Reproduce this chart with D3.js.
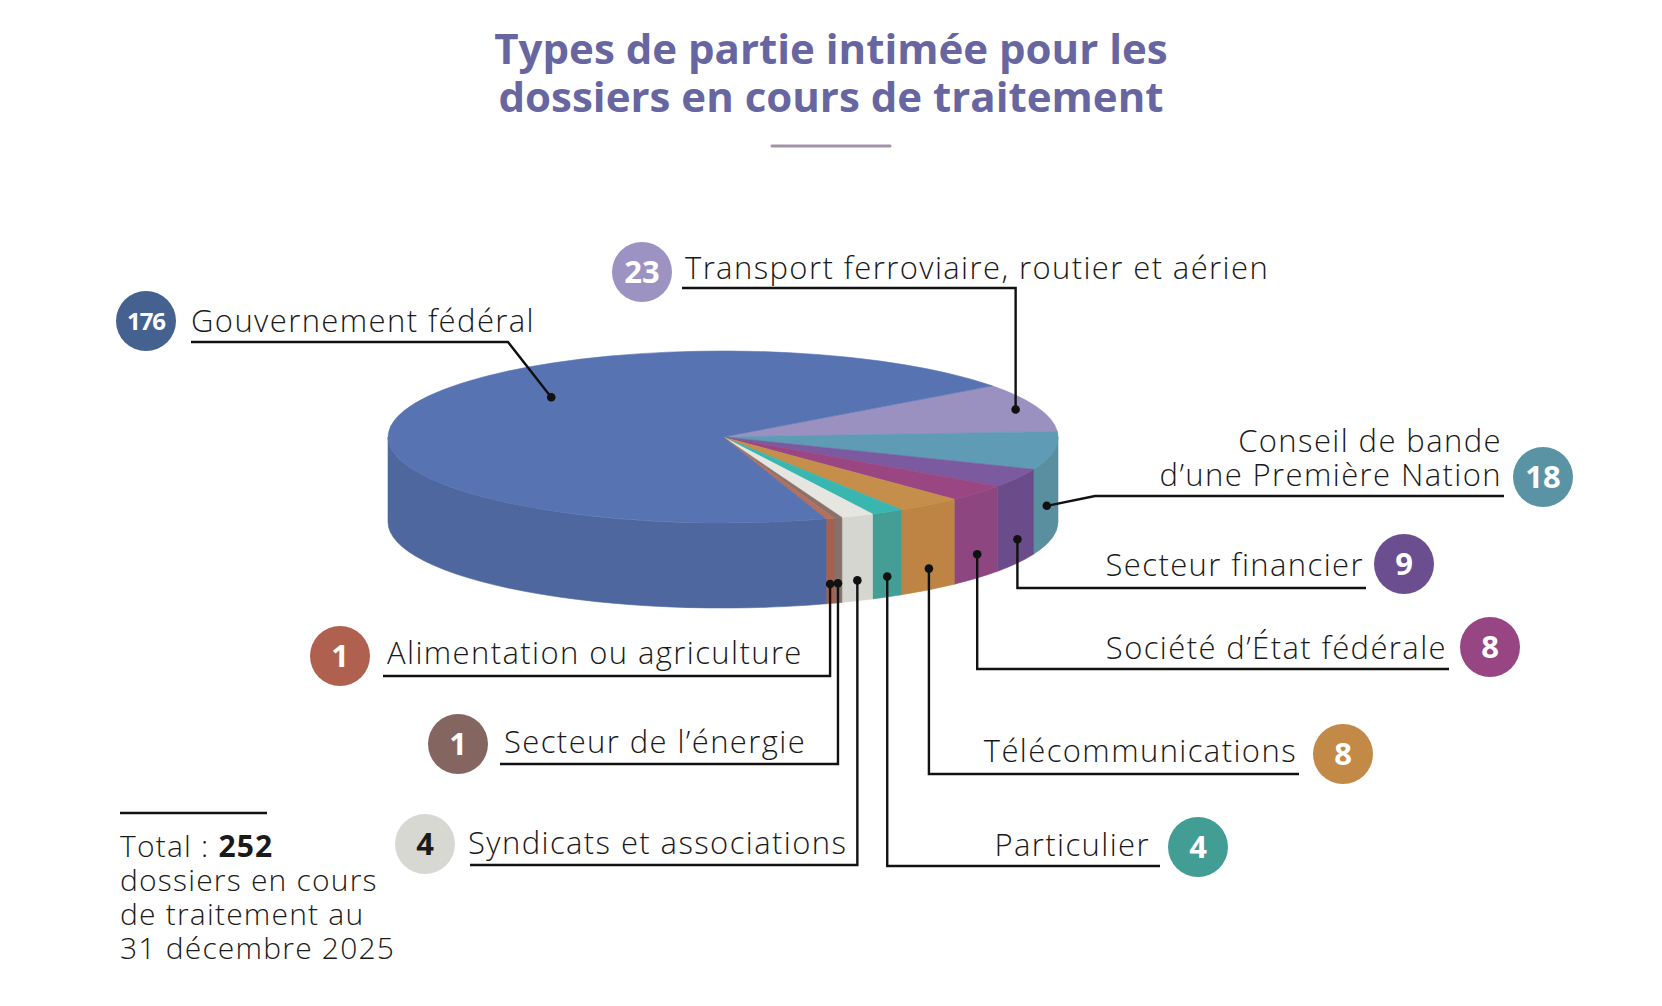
<!DOCTYPE html>
<html lang="fr">
<head>
<meta charset="utf-8">
<script src="https://cdn.jsdelivr.net/npm/d3@7"></script>
<style>
  body { margin: 0; background: #ffffff; }
  svg { display: block; font-family: "Open Sans", "Noto Sans", sans-serif; }
</style>
</head>
<body>
<div id="chart"></div>
<script>
// data
const categories = [
  "Transport ferroviaire, routier et aérien",
  "Conseil de bande\nd’une Première Nation",
  "Secteur financier",
  "Société d’État fédérale",
  "Télécommunications",
  "Particulier",
  "Syndicats et associations",
  "Secteur de l’énergie",
  "Alimentation ou agriculture",
  "Gouvernement fédéral"
];
const values = [23, 18, 9, 8, 8, 4, 4, 1, 1, 176];
const total = 252;

// colours: top face, side face, badge
const topColors = ["#9a91c0", "#5f9bb5", "#7b5a9f", "#9a4682", "#c58e4a", "#3ab6b1", "#e6e6e0", "#8a726b", "#b56f5a", "#5773b2"];
const sideColors = ["#8a82ad", "#5a8fa0", "#6a4c8b", "#8d4680", "#be8444", "#449e96", "#d6d6d0", "#85706a", "#a8604c", "#4e679e"];
const badgeColors = ["#9d93c3", "#5a93a4", "#6b4e8f", "#984683", "#c38947", "#429d94", "#d8d8d3", "#85655f", "#b0604e", "#44618f"];

const W = 1662, H = 1006;
const cx = 723, cy = 437, rx = 335, ry = 86, depth = 85;

// label layout (badge centre, text anchor, underline)
const layout = [
  { bx: 642, by: 272, tx: 685, anchor: "start", base: [279], ly: 288, lx: 682, face: "top", r: 0.93 },
  { bx: 1543, by: 477, tx: 1502, anchor: "end", base: [452, 486], ly: 496, lx: 1504, elbow: 1095, face: "side", f: 0.55, t: 0.72 },
  { bx: 1404, by: 564, tx: 1364, anchor: "end", base: [576], ly: 588, lx: 1366, face: "side", f: 0.72 },
  { bx: 1490, by: 647, tx: 1447, anchor: "end", base: [659], ly: 669, lx: 1449, face: "side", f: 0.72 },
  { bx: 1343, by: 754, tx: 1297, anchor: "end", base: [762], ly: 774, lx: 1299, face: "side", f: 0.75 },
  { bx: 1198, by: 847, tx: 1150, anchor: "end", base: [856], ly: 866, lx: 1160, face: "side", f: 0.76 },
  { bx: 425, by: 844, tx: 468, anchor: "start", base: [854], ly: 865, lx: 470, face: "side", f: 0.76 },
  { bx: 458, by: 744, tx: 504, anchor: "start", base: [753], ly: 764, lx: 500, face: "side", f: 0.77 },
  { bx: 340, by: 656, tx: 387, anchor: "start", base: [664], ly: 676, lx: 383, face: "side", f: 0.77 },
  { bx: 146, by: 321, tx: 191, anchor: "start", base: [332], ly: 342, lx: 191, elbow: 508, face: "top", angle: 312, r: 0.69 }
];

const deg = Math.PI / 180;
const startAngle = 53.5 * deg;

const arcs = d3.pie()
  .value(d => d)
  .sort(null)
  .startAngle(startAngle)
  .endAngle(startAngle + 2 * Math.PI)(values);

// ellipse point for a d3 pie angle (clockwise from 12 o'clock)
const px = (a, k = 1) => cx + rx * k * Math.sin(a);
const py = (a, k = 1) => cy - ry * k * Math.cos(a);

const svg = d3.select("#chart").append("svg")
  .attr("width", W)
  .attr("height", H);

// title
const title = svg.append("text")
  .attr("text-anchor", "middle")
  .attr("fill", "#6866a1")
  .style("font-weight", 700)
  .style("font-size", "42px");
title.append("tspan").attr("x", 831).attr("y", 64).text("Types de partie intimée pour les");
title.append("tspan").attr("x", 831).attr("y", 112).text("dossiers en cours de traitement");

svg.append("line")
  .attr("x1", 772).attr("x2", 890)
  .attr("y1", 146).attr("y2", 146)
  .attr("stroke", "#a393a8")
  .attr("stroke-width", 3)
  .attr("stroke-linecap", "round");

// side faces (only front half is visible: pie angles 90..270 deg)
const pieG = svg.append("g");
arcs.forEach((d, i) => {
  const s = Math.max(d.startAngle, 90 * deg);
  const e = Math.min(d.endAngle, 270 * deg);
  if (e <= s) return;
  const path = `M${px(s)},${py(s)} A${rx},${ry} 0 0 1 ${px(e)},${py(e)}`
    + ` L${px(e)},${py(e) + depth} A${rx},${ry} 0 0 0 ${px(s)},${py(s) + depth} Z`;
  pieG.append("path")
    .attr("d", path)
    .attr("fill", sideColors[i])
    .attr("stroke", sideColors[i])
    .attr("stroke-width", 0.6);
});

// top faces
arcs.forEach((d, i) => {
  const large = d.endAngle - d.startAngle > Math.PI ? 1 : 0;
  const path = `M${cx},${cy} L${px(d.startAngle)},${py(d.startAngle)}`
    + ` A${rx},${ry} 0 ${large} 1 ${px(d.endAngle)},${py(d.endAngle)} Z`;
  pieG.append("path")
    .attr("d", path)
    .attr("fill", topColors[i])
    .attr("stroke", topColors[i])
    .attr("stroke-width", 0.6)
    .attr("stroke-linejoin", "round");
});

// labels, leaders and badges
const labelG = svg.append("g");
arcs.forEach((d, i) => {
  const L = layout[i];
  let a = L.angle !== undefined ? L.angle * deg : (d.startAngle + d.endAngle) / 2;
  if (L.t !== undefined) a = d.startAngle + (d.endAngle - d.startAngle) * L.t;
  let dx, dy;
  if (L.face === "top") {
    dx = px(a, L.r);
    dy = py(a, L.r);
  } else {
    dx = px(a);
    dy = py(a) + depth * L.f;
  }
  const ex = L.elbow !== undefined ? L.elbow : dx;

  labelG.append("path")
    .attr("d", `M${L.lx},${L.ly} L${ex},${L.ly} L${dx},${dy}`)
    .attr("fill", "none")
    .attr("stroke", "#111")
    .attr("stroke-width", 2.4)
    .attr("stroke-linejoin", "miter");

  labelG.append("circle")
    .attr("cx", dx).attr("cy", dy)
    .attr("r", 4.3)
    .attr("fill", "#111");

  const lines = categories[i].split("\n");
  const t = labelG.append("text")
    .attr("text-anchor", L.anchor)
    .attr("fill", "#1a1a1a")
    .style("font-size", "31px")
    .style("font-weight", 300)
    .style("letter-spacing", "1.4px");
  lines.forEach((ln, j) => {
    t.append("tspan").attr("x", L.tx).attr("y", L.base[j]).text(ln);
  });

  labelG.append("circle")
    .attr("cx", L.bx).attr("cy", L.by)
    .attr("r", 30)
    .attr("fill", badgeColors[i]);

  labelG.append("text")
    .attr("x", L.bx)
    .attr("y", L.by)
    .attr("dy", "0.36em")
    .attr("text-anchor", "middle")
    .attr("fill", i === 6 ? "#1a1a1a" : "#ffffff")
    .style("font-weight", 700)
    .style("font-size", values[i] > 99 ? "24px" : "31px")
    .style("letter-spacing", values[i] > 99 ? "-1px" : "0px")
    .text(values[i]);
});

// total note
svg.append("line")
  .attr("x1", 120).attr("x2", 267)
  .attr("y1", 813).attr("y2", 813)
  .attr("stroke", "#111")
  .attr("stroke-width", 2.4);

const note = svg.append("text")
  .attr("fill", "#1a1a1a")
  .style("font-size", "30px")
  .style("font-weight", 300)
  .style("letter-spacing", "1.2px");
const first = note.append("tspan").attr("x", 120).attr("y", 857);
first.append("tspan").text("Total : ");
first.append("tspan").style("font-weight", 700).text(total);
note.append("tspan").attr("x", 120).attr("y", 891).text("dossiers en cours");
note.append("tspan").attr("x", 120).attr("y", 925).text("de traitement au");
note.append("tspan").attr("x", 120).attr("y", 959).text("31 décembre 2025");
</script>
</body>
</html>
